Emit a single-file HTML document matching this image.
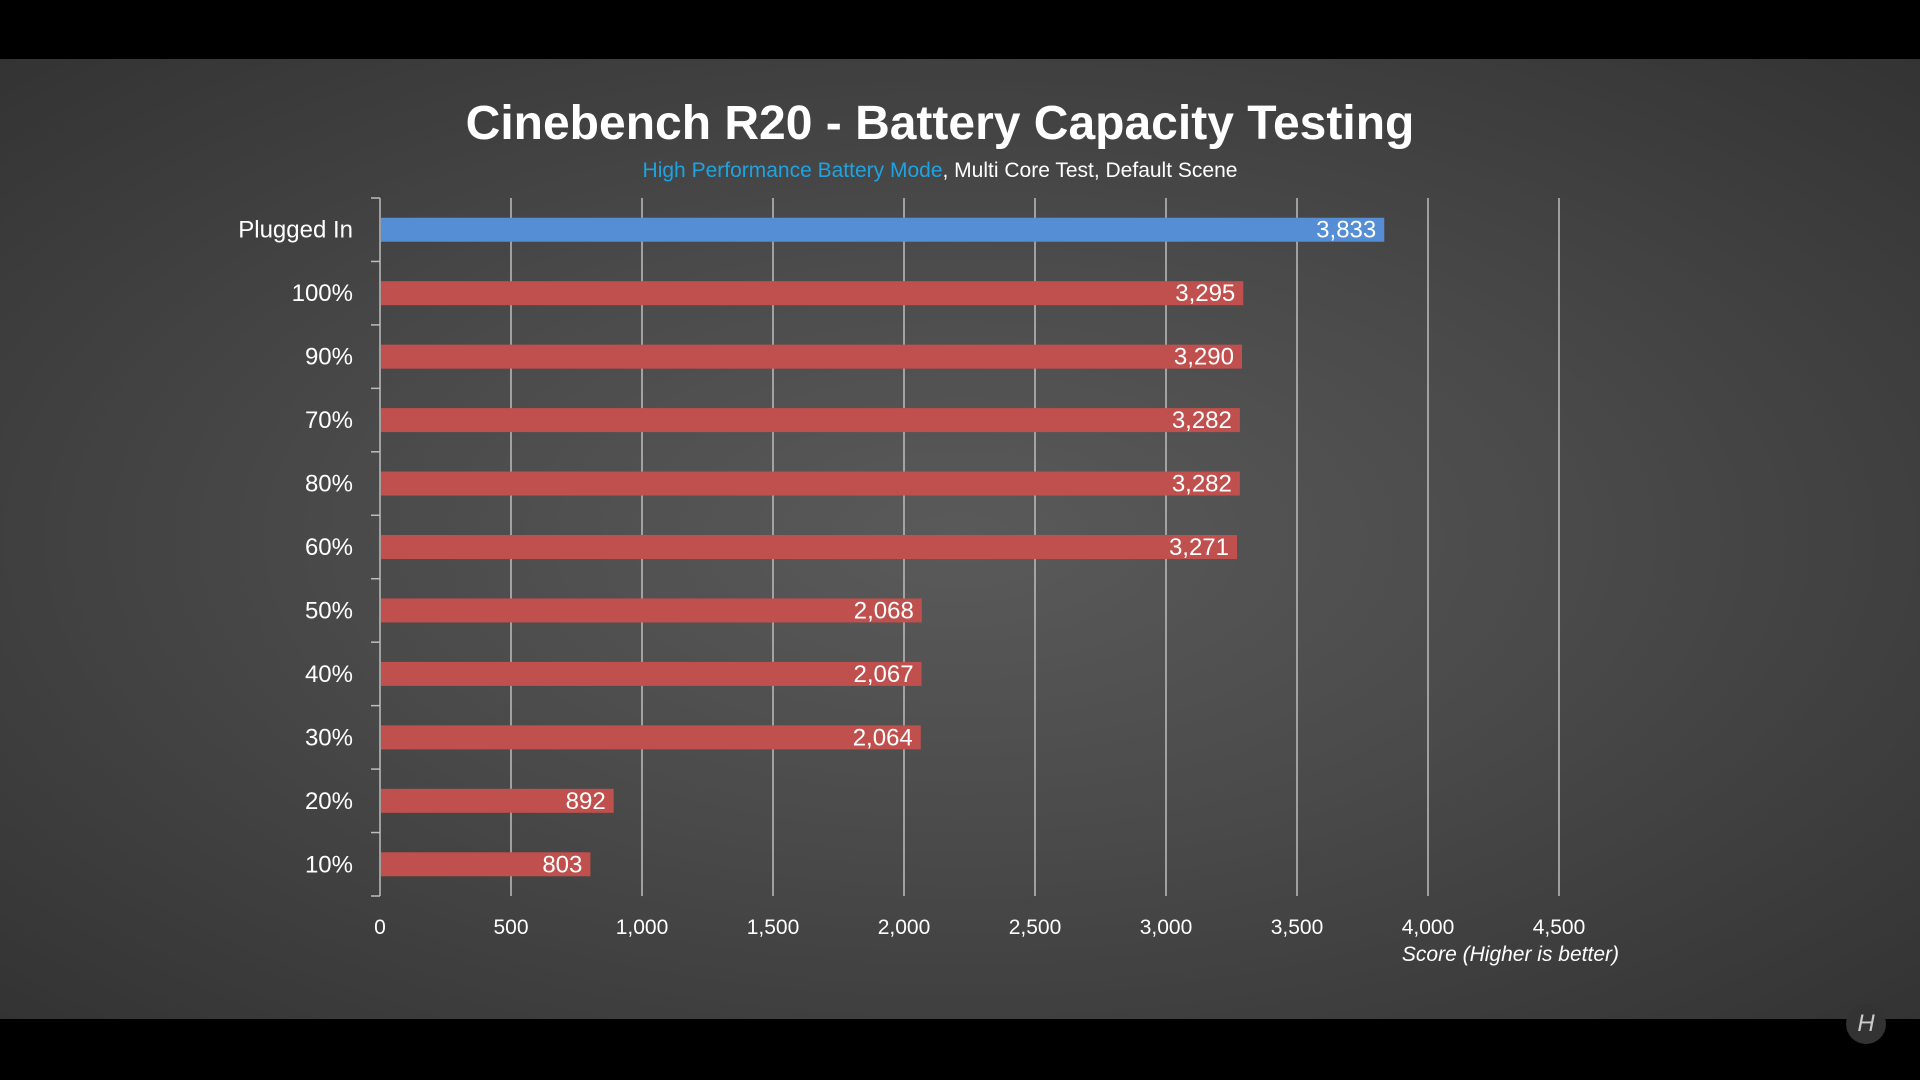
<!DOCTYPE html>
<html><head><meta charset="utf-8">
<style>
html,body{margin:0;padding:0;width:1920px;height:1080px;overflow:hidden;background:#000;}
#stage{position:absolute;left:0;top:59px;width:1920px;height:960px;
background:radial-gradient(ellipse at 50% 50%,#5a5a5a 0%,#4a4a4a 45%,#333 100%);}
svg{position:absolute;left:0;top:0;}
text{font-family:"Liberation Sans","DejaVu Sans",sans-serif;}
</style></head>
<body>
<div id="stage"></div>
<svg id="chart" width="1920" height="1080">
  <text x="940" y="139" text-anchor="middle" fill="#fff" font-size="48" font-weight="bold">Cinebench R20 - Battery Capacity Testing</text>
  <text x="940" y="177" text-anchor="middle" font-size="21"><tspan fill="#1fa3e0">High Performance Battery Mode</tspan><tspan fill="#fff">, Multi Core Test, Default Scene</tspan></text>
  <text x="1619" y="961" text-anchor="end" fill="#fff" font-size="21" font-style="italic">Score (Higher is better)</text>
</svg>
<div style="position:absolute;left:1846px;top:1004px;width:40px;height:40px;border-radius:50%;background:#333;color:#ccc;font:italic 24px 'Liberation Sans',sans-serif;text-align:center;line-height:40px;">H</div>
<script>
const categories = ["Plugged In","100%","90%","70%","80%","60%","50%","40%","30%","20%","10%"];
const values = [3833,3295,3290,3282,3282,3271,2068,2067,2064,892,803];
const valueLabels = ["3,833","3,295","3,290","3,282","3,282","3,271","2,068","2,067","2,064","892","803"];
const ticks = [0,500,1000,1500,2000,2500,3000,3500,4000,4500];
const tickLabels = ["0","500","1,000","1,500","2,000","2,500","3,000","3,500","4,000","4,500"];

const svg = document.getElementById('chart');
const NS = "http://www.w3.org/2000/svg";
const x0 = 380, x1 = 1559, xMax = 4500;
const yTop = 198, yBot = 896;
const band = (yBot - yTop) / categories.length;
const xs = v => x0 + (v / xMax) * (x1 - x0);
const yc = i => yTop + band * (i + 0.5);
function mk(tag, attrs){const e=document.createElementNS(NS,tag);for(const k in attrs)e.setAttribute(k,attrs[k]);svg.appendChild(e);return e;}

ticks.forEach((t,i)=>{
  if(i>0){
    const g = mk('line',{x1:xs(t),x2:xs(t),y1:yTop,y2:yBot,stroke:'#bdbdbd','stroke-width':1.5});
    
    
  }
  const tl = mk('text',{x:xs(t),y:934,'text-anchor':'middle',fill:'#fff','font-size':21});
  tl.textContent = tickLabels[i];
  
  
});
const ax = mk('line',{x1:x0,x2:x0,y1:yTop,y2:yBot,stroke:'#bdbdbd','stroke-width':1.5});


for(let i=0;i<=categories.length;i++){
  const tk = mk('line',{x1:x0-9,x2:x0,y1:yTop+band*i,y2:yTop+band*i,stroke:'#bdbdbd','stroke-width':1.5});
  
  
}
categories.forEach((c,i)=>{
  const y = yc(i);
  const lab = mk('text',{x:353,y:y+8,'text-anchor':'end',fill:'#fff','font-size':24});
  lab.textContent = c;
  
  
  const b = mk('rect',{x:x0+1,y:y-12,width:xs(values[i])-x0-1,height:24,fill:i===0?'#558ed5':'#c0504d'});
  
  
  const v = mk('text',{x:xs(values[i])-8,y:y+8,'text-anchor':'end',fill:'#fff','font-size':24});
  v.textContent = valueLabels[i];
  
  
});
</script>
</body></html>
